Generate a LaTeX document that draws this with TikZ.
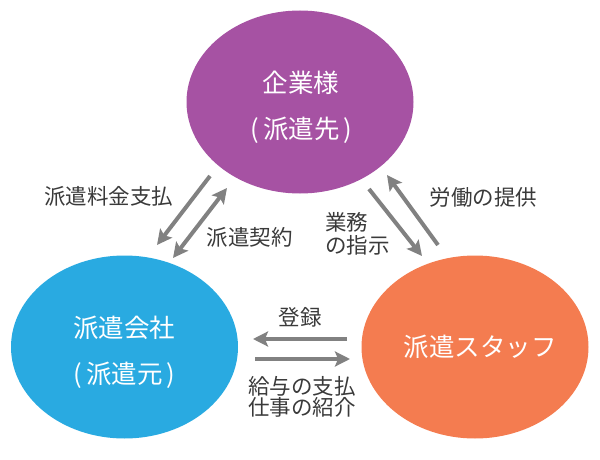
\documentclass[tikz,border=0pt]{standalone}
\usepackage{fontspec}
\setmainfont{Noto Sans CJK JP}
\usetikzlibrary{shapes.geometric,arrows.meta,positioning,calc}
\definecolor{clientpurple}{HTML}{A652A3}
\definecolor{agencyblue}{HTML}{29AAE1}
\definecolor{staffor}{HTML}{F47C50}
\definecolor{arrowgray}{HTML}{818181}
\definecolor{labelgray}{HTML}{3A3A3A}
\tikzset{
	party/.style={ellipse, minimum width=227pt, minimum height=183pt, inner sep=0pt},
	flow/.style={line width=4pt, color=arrowgray, -{Stealth[length=15pt,width=15pt,inset=3pt]}},
	twoflow/.style={flow, {Stealth[length=15pt,width=15pt,inset=3pt]}-{Stealth[length=15pt,width=15pt,inset=3pt]}},
	inlabel/.style={text=white, font=\fontsize{25.5}{25.5}\selectfont},
	outlabel/.style={text=labelgray, font=\fontsize{21.5}{23}\selectfont, align=left}
}
\begin{document}
\begin{tikzpicture}[x=1pt,y=-1pt]
	\useasboundingbox (0,0) rectangle (600,460);
	% the three parties
	\node[party, fill=clientpurple] (client) at (300,102) {};
	\node[party, fill=agencyblue] (agency) at (124.5,347) {};
	\node[party, fill=staffor] (staff) at (475,347) {};
	
	% names inside the parties
	\node[inlabel] (clientname) at (301,83) {企業様};
	\node[inlabel] (clientsub) at (301.5,130) {(\,派遣先\,)};
	\node[inlabel] (agencyname) at (124,328) {派遣会社};
	\node[inlabel] (agencysub) at (124.5,375) {(\,派遣元\,)};
	\node[inlabel] (staffname) at (480,347) {派遣スタッフ};
	
	% arrow ends
	\coordinate (fee1) at (210,176);
	\coordinate (fee2) at (157,245);
	\coordinate (contract1) at (173,258);
	\coordinate (contract2) at (227,188);
	\coordinate (order1) at (369,189);
	\coordinate (order2) at (422,256);
	\coordinate (labor1) at (438,245);
	\coordinate (labor2) at (387,175);
	\coordinate (entry1) at (347,339);
	\coordinate (entry2) at (253,339);
	\coordinate (pay1) at (255,359);
	\coordinate (pay2) at (350,359);
	
	% client <-> agency
	\draw[flow] (fee1) -- (fee2);
	\draw[twoflow] (contract1) -- (contract2);
	% client <-> staff
	\draw[flow] (order1) -- (order2);
	\draw[flow] (labor1) -- (labor2);
	% agency <-> staff
	\draw[flow] (entry1) -- (entry2);
	\draw[flow] (pay1) -- (pay2);
	
	% descriptions next to the arrows
	\node[outlabel] (feetext) at (108.5,196) {派遣料金支払};
	\node[outlabel] (contracttext) at (249.5,237) {派遣契約};
	\node[outlabel, anchor=west, inner sep=0pt] (ordertext) at (325,233.5) {業務\\の指示};
	\node[outlabel] (labortext) at (483.5,197) {労働の提供};
	\node[outlabel] (entrytext) at (300,317) {登録};
	\node[outlabel, font=\fontsize{21.5}{21}\selectfont] (paytext) at (302,397) {給与の支払\\仕事の紹介};
\end{tikzpicture}
\end{document}
